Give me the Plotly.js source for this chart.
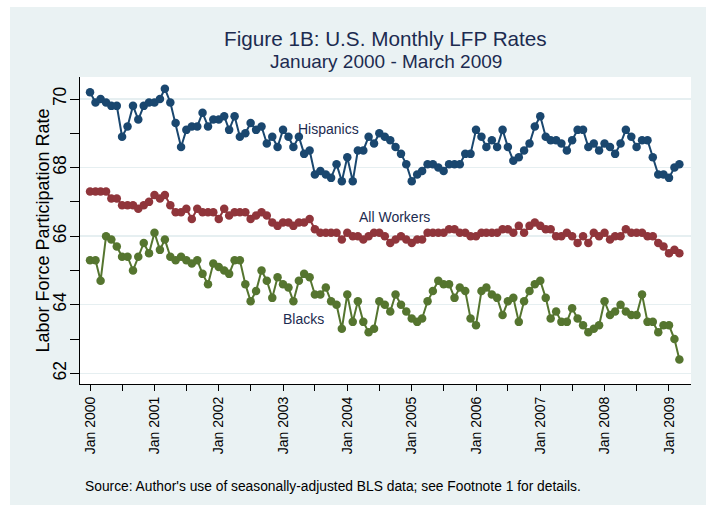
<!DOCTYPE html>
<html><head><meta charset="utf-8">
<script src="https://cdn.plot.ly/plotly-3.0.1.min.js"></script>
<style>html,body{margin:0;padding:0;background:#fff}</style>
</head><body><div id="chart" style="width:706px;height:510px"></div>
<script>
// Monthly series, Jan 2000 - Mar 2009
const startYear = 2000;
const hispanics = [
70.2,69.9,70.0,69.9,69.8,69.8,68.9,69.2,69.8,69.4,69.8,69.9,
69.9,70.0,70.3,69.9,69.3,68.6,69.1,69.2,69.2,69.6,69.2,69.4,
69.4,69.5,69.1,69.5,68.9,69.0,69.3,69.1,69.2,68.7,68.9,68.6,
69.1,68.9,68.6,68.9,68.4,68.5,67.8,67.9,67.8,67.7,68.1,67.6,
68.3,67.6,68.5,68.5,68.9,68.7,69.0,68.9,68.8,68.6,68.4,68.1,
67.6,67.8,67.9,68.1,68.1,68.0,67.9,68.1,68.1,68.1,68.4,68.4,
69.1,68.9,68.6,68.8,68.6,69.1,68.6,68.2,68.3,68.5,68.7,69.2,
69.5,68.9,68.8,68.8,68.7,68.5,68.8,69.1,69.1,68.6,68.7,68.5,
68.7,68.6,68.4,68.7,69.1,68.9,68.6,68.8,68.8,68.3,67.8,67.8,
67.7,68.0,68.1];
const allWorkers = [
67.3,67.3,67.3,67.3,67.1,67.1,66.9,66.9,66.9,66.8,66.9,67.0,
67.2,67.1,67.2,66.9,66.7,66.7,66.8,66.5,66.8,66.7,66.7,66.7,
66.5,66.8,66.6,66.7,66.7,66.7,66.5,66.6,66.7,66.6,66.4,66.3,
66.4,66.4,66.3,66.4,66.4,66.5,66.2,66.1,66.1,66.1,66.1,65.9,
66.1,66.0,66.0,65.9,66.0,66.1,66.1,66.0,65.8,65.9,66.0,65.9,
65.8,65.9,65.9,66.1,66.1,66.1,66.1,66.2,66.2,66.1,66.1,66.0,
66.0,66.1,66.1,66.1,66.1,66.2,66.2,66.1,66.3,66.1,66.3,66.4,
66.3,66.2,66.2,66.0,66.0,66.1,66.0,65.8,66.0,65.8,66.1,66.0,
66.1,65.9,66.0,66.0,66.2,66.1,66.1,66.1,66.0,66.0,65.8,65.7,
65.5,65.6,65.5];
const blacks = [
65.3,65.3,64.7,66.0,65.9,65.7,65.4,65.4,65.0,65.4,65.8,65.5,
66.1,65.6,65.9,65.4,65.3,65.4,65.3,65.2,65.3,64.9,64.6,65.2,
65.1,65.0,64.9,65.3,65.3,64.6,64.1,64.4,65.0,64.7,64.2,64.8,
64.6,64.5,64.1,64.7,64.9,64.8,64.3,64.3,64.5,64.1,64.0,63.3,
64.3,63.5,64.1,63.5,63.2,63.3,64.1,64.0,63.8,64.3,64.0,63.8,
63.6,63.5,63.6,64.1,64.4,64.7,64.6,64.6,64.2,64.5,64.4,63.6,
63.4,64.4,64.5,64.3,64.2,63.7,64.1,64.2,63.5,64.1,64.4,64.6,
64.7,64.2,63.6,63.8,63.5,63.5,63.9,63.6,63.4,63.2,63.3,63.4,
64.1,63.7,63.8,64.0,63.8,63.7,63.7,64.3,63.5,63.5,63.2,63.4,
63.4,63.0,62.4];
const seriesNames = ['Hispanics', 'All Workers', 'Blacks'];
const yTicks = [62, 64, 66, 68, 70];

const months = hispanics.map((_, i) => {
  const y = startYear + Math.floor(i / 12);
  const m = (i % 12) + 1;
  return y + '-' + String(m).padStart(2, '0') + '-01';
});

const colors = ['#1a476f', '#90353b', '#55752f'];
const series = [hispanics, allWorkers, blacks];
const FONT = 'Liberation Sans, Arial, sans-serif';

const traces = series.map((vals, k) => ({
  type: 'scatter', mode: 'lines+markers', name: seriesNames[k],
  x: months, y: vals,
  line: {color: colors[k], width: 2},
  marker: {color: colors[k], size: 8.5},
  hoverinfo: 'x+y+name'
}));

const textColor = '#1c2b50';
function note(text, x, y, size, color, extra) {
  return Object.assign({text: text, xref: 'paper', yref: 'paper', x: x, y: y,
    xanchor: 'center', yanchor: 'middle', showarrow: false,
    font: {size: size, color: color, family: FONT}}, extra || {});
}
const layout = {
  width: 706, height: 510,
  margin: {l: 80, r: 15, t: 77, b: 126},
  paper_bgcolor: '#ffffff', plot_bgcolor: '#ffffff',
  showlegend: false,
  font: {family: FONT, color: '#000'},
  xaxis: {
    type: 'date',
    range: ['1999-11-05', '2009-05-06'],
    tick0: '2000-01-01', dtick: 'M12', tickformat: '%b %Y',
    tickangle: -90, tickfont: {size: 14, color: '#000', family: FONT},
    ticks: 'outside', ticklen: 6, tickcolor: '#000', tickwidth: 1,
    minor: {dtick: 'M6', ticks: 'outside', ticklen: 6, tickcolor: '#000', tickwidth: 1, showgrid: false},
    showgrid: false, zeroline: false,
    showline: true, linecolor: '#000', linewidth: 1
  },
  yaxis: {
    range: [61.688, 70.642],
    tickmode: 'array', tickvals: yTicks, ticktext: yTicks.map(String),
    tickangle: -90, tickfont: {size: 17.5, color: '#000', family: FONT},
    ticklabelstandoff: -3,
    ticks: 'outside', ticklen: 9, tickcolor: '#000', tickwidth: 1,
    minor: {tick0: 61, dtick: 1, ticks: 'outside', ticklen: 9, tickcolor: '#000', tickwidth: 1, showgrid: false},
    showgrid: true, gridcolor: '#e6eff1', gridwidth: 1.5,
    zeroline: false, showline: true, linecolor: '#000', linewidth: 1
  },
  shapes: [
    {type: 'rect', xref: 'paper', yref: 'paper', x0: -0.1146, x1: 1.0245, y0: -0.394, y1: 1.228,
     fillcolor: '#eaf2f3', line: {width: 0}, layer: 'below'},
    {type: 'rect', xref: 'paper', yref: 'paper', x0: 0, x1: 1, y0: 0, y1: 1,
     fillcolor: '#ffffff', line: {width: 0}, layer: 'below'}
  ],
  annotations: [
    note('Figure 1B: U.S. Monthly LFP Rates', 0.5, 1.127, 20.7, textColor),
    note('January 2000 - March 2009', 0.5, 1.049, 19, textColor),
    note('Labor Force Participation Rate', -0.062, 0.5, 18, '#000', {textangle: -90}),
    note("Source: Author's use of seasonally-adjusted BLS data; see Footnote 1 for details.",
         0.005, -0.3355, 13.8, '#000', {xanchor: 'left'}),
    note(seriesNames[0], 0.406, 0.831, 14, textColor),
    note(seriesNames[1], 0.5155, 0.544, 14, textColor),
    note(seriesNames[2], 0.365, 0.2117, 14, textColor)
  ]
};

Plotly.newPlot('chart', traces, layout, {displayModeBar: false, staticPlot: true});
</script></body></html>
